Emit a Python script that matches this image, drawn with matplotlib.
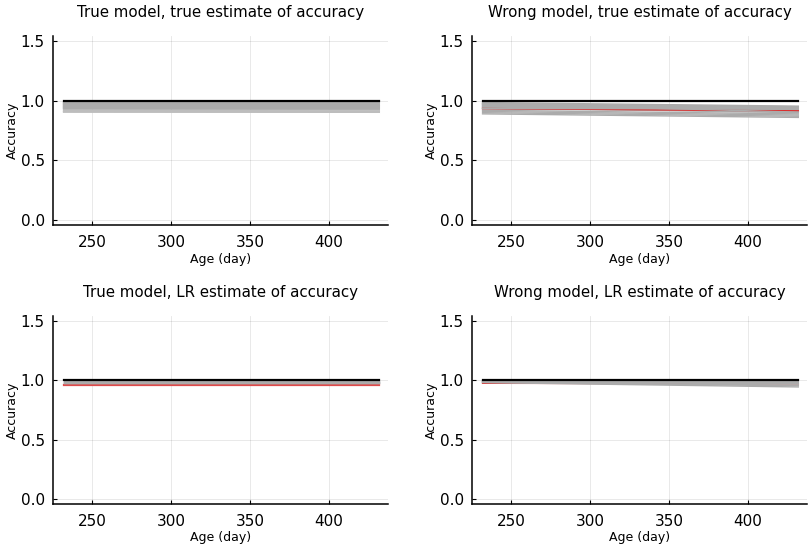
import matplotlib
matplotlib.use("Agg")
import matplotlib.pyplot as plt
import numpy as np

plt.rcParams['font.family'] = ['DejaVu Sans']

ages = [232, 432]
x_ticks = [250, 300, 350, 400]
y_ticks = [0.0, 0.5, 1.0, 1.5]
y_tick_labels = ["0.0", "0.5", "1.0", "1.5"]

titles = ["True model, true estimate of accuracy",
          "Wrong model, true estimate of accuracy",
          "True model, LR estimate of accuracy",
          "Wrong model, LR estimate of accuracy"]

true_accuracy = [1.0, 1.0]

# gray estimate lines (start value, end value) per panel
tl_start = [0.990, 0.985, 0.980, 0.975, 0.970, 0.965, 0.960, 0.955, 0.950, 0.945, 0.940, 0.935, 0.930, 0.917, 0.910, 0.904]
tl_end   = [0.988, 0.984, 0.981, 0.973, 0.969, 0.966, 0.958, 0.954, 0.951, 0.944, 0.941, 0.934, 0.929, 0.916, 0.909, 0.903]

tr_start = [0.985, 0.980, 0.975, 0.970, 0.965, 0.960, 0.955, 0.950, 0.945, 0.940, 0.930, 0.920, 0.910, 0.900, 0.890]
tr_end   = [0.955, 0.940, 0.950, 0.930, 0.945, 0.920, 0.935, 0.910, 0.925, 0.900, 0.915, 0.890, 0.880, 0.870, 0.860]
tr_red = [0.935, 0.915]
tr_over_start = [0.936, 0.975]
tr_over_end   = [0.930, 0.905]

bl_start = [0.995, 0.990, 0.985, 0.980, 0.978]
bl_end   = [0.995, 0.990, 0.985, 0.980, 0.978]
bl_red = [0.965, 0.965]

br_start = [0.998, 0.995, 0.993, 0.990, 0.988, 0.986, 0.984, 0.982]
br_end   = [0.990, 0.985, 0.980, 0.975, 0.970, 0.960, 0.955, 0.945]
br_red = [0.976, 0.972]

GRAY = "#ababab"
LIGHT_GRAY = "#bdbdbd"
RED = "#e02020"

W, H = 809, 549
fig = plt.figure(figsize=(W / 100, H / 100), dpi=100)

def make_ax(l, r, t, b):
    return fig.add_axes([l / W, 1 - b / H, (r - l) / W, (b - t) / H])

axes = [make_ax(53, 388, 36, 225), make_ax(472, 807, 36, 225),
        make_ax(53, 388, 316, 504), make_ax(472, 807, 316, 504)]

for ax, title in zip(axes, titles):
    ax.set_xlim(225.3, 437.5)
    ax.set_ylim(-0.045, 1.545)
    ax.set_xticks(x_ticks)
    ax.set_yticks(y_ticks)
    ax.set_yticklabels(y_tick_labels)
    ax.grid(True, color="black", alpha=0.1, lw=0.6)
    ax.set_axisbelow(True)
    for s in ["top", "right"]:
        ax.spines[s].set_visible(False)
    for s in ["left", "bottom"]:
        ax.spines[s].set_linewidth(1.1)
    ax.tick_params(direction="in", length=3, width=0.8, labelsize=11)
    ax.tick_params(axis="x", pad=7)
    ax.tick_params(axis="y", pad=6)
    ax.set_title(title, fontsize=10.8, pad=14)
    ax.set_xlabel("Age (day)", fontsize=9, labelpad=2)
    ax.set_ylabel("Accuracy", fontsize=9, labelpad=1)

ax = axes[0]
for i, (s, e) in enumerate(zip(tl_start, tl_end)):
    ax.plot(ages, [s, e], color=GRAY if s >= 0.93 else LIGHT_GRAY, lw=1.0, zorder=3)
ax.plot(ages, true_accuracy, color="black", lw=1.6, zorder=5)

ax = axes[1]
for s, e in zip(tr_start, tr_end):
    ax.plot(ages, [s, e], color=GRAY, lw=1.0, zorder=3)
ax.plot(ages, tr_red, color=RED, lw=1.0, zorder=4)
for s, e in zip(tr_over_start, tr_over_end):
    ax.plot(ages, [s, e], color=GRAY, lw=1.0, zorder=4.5)
ax.plot(ages, true_accuracy, color="black", lw=1.6, zorder=5)

ax = axes[2]
ax.plot(ages, bl_red, color="#dd4a4a", lw=1.6, zorder=3)
for s, e in zip(bl_start, bl_end):
    ax.plot(ages, [s, e], color=GRAY, lw=1.0, zorder=4)
ax.plot(ages, true_accuracy, color="black", lw=1.6, zorder=5)

ax = axes[3]
ax.plot(ages, br_red, color=RED, lw=1.0, zorder=3)
for s, e in zip(br_start, br_end):
    ax.plot(ages, [s, e], color=GRAY, lw=1.0, zorder=4)
ax.plot(ages, true_accuracy, color="black", lw=1.6, zorder=5)

fig.savefig("out.png", dpi=100)
